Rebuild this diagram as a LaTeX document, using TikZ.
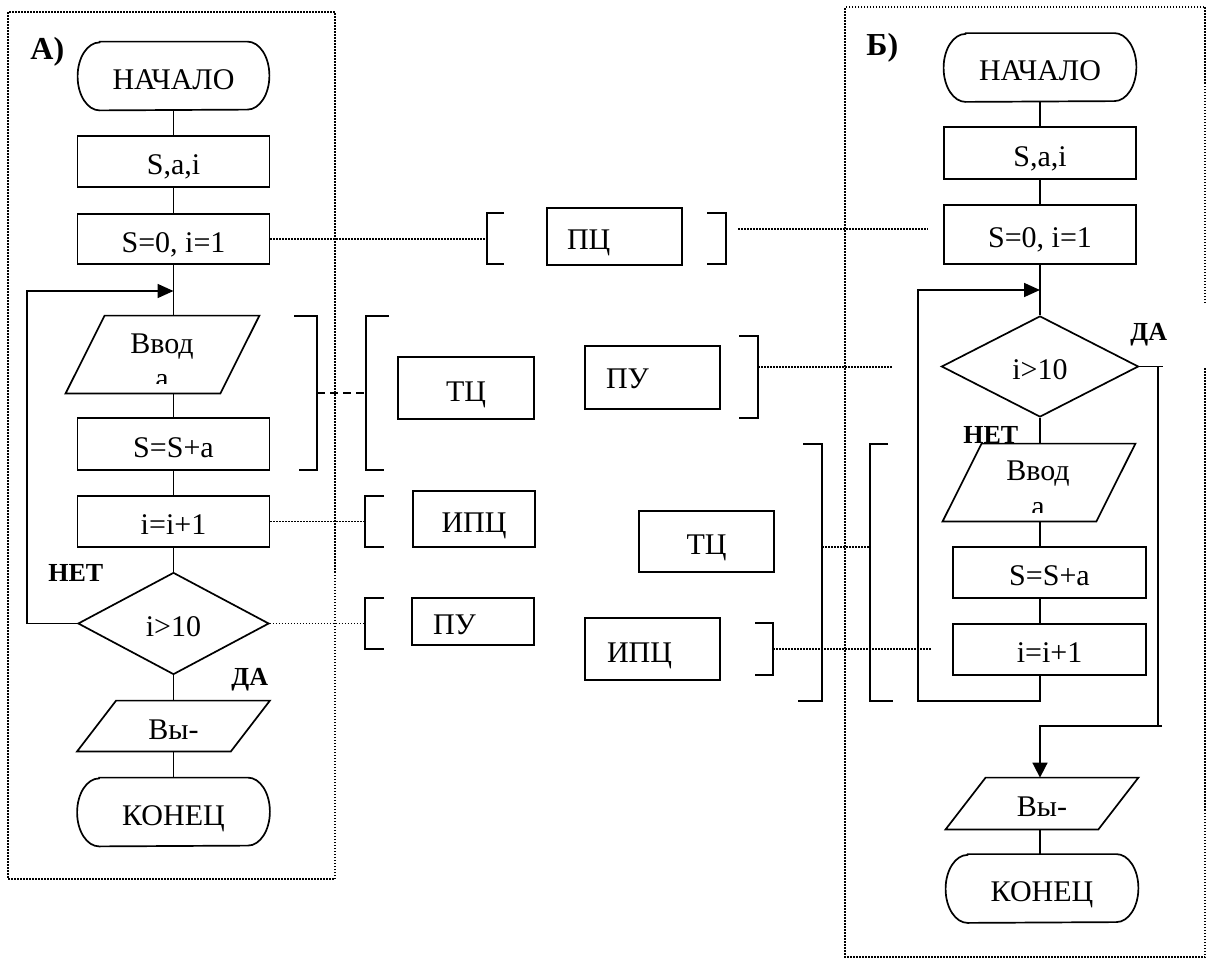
\documentclass[tikz,border=0pt]{standalone}
\usepackage{fontspec}
\setmainfont{Liberation Serif}
\usetikzlibrary{shapes.geometric,arrows.meta}

% terminal outline (flattened round ends) drawn around a blank node
\newcommand\termshape[1]{%
  \draw[ln] ([xshift=11pt]#1.north west) -- ([xshift=-11pt]#1.north east)
    arc[start angle=90,end angle=-90,x radius=11pt,y radius=17pt]
    -- ([xshift=11pt]#1.south west)
    arc[start angle=270,end angle=90,x radius=11pt,y radius=17pt] -- cycle;}
% data (parallelogram) outline drawn around a blank node
\newcommand\parashape[2]{%
  \draw[ln] ([xshift=#2]#1.north west) -- (#1.north east)
    -- ([xshift=-#2]#1.south east) -- (#1.south west) -- cycle;}

\begin{document}
\begin{tikzpicture}[x=0.5pt,y=-0.5pt,
  every node/.style={font=\fontsize{15pt}{18pt}\selectfont},
  ln/.style={line width=0.85pt},
  seat/.style={text height=13.5pt,text depth=0.5pt},
  box/.style={draw,rectangle,ln,inner sep=0pt,seat},
  blank/.style={rectangle,inner sep=0pt,seat},
  dia/.style={draw,diamond,ln,inner sep=0pt,seat},
  lbox/.style={box,align=left},
  dots/.style={line width=0.75pt,dash pattern=on 0.75pt off 0.75pt},
  dashes/.style={line width=0.85pt,dash pattern=on 4pt off 2.5pt},
  tag/.style={font=\fontsize{13pt}{15pt}\selectfont\bfseries,anchor=base west,inner sep=0pt},
  head/.style={font=\fontsize{16pt}{19pt}\selectfont\bfseries,anchor=base west,inner sep=0pt},
  arr/.style={ln,-{Triangle[length=8pt,width=7pt]}},
  arrd/.style={ln,-{Triangle[length=7.5pt,width=7.5pt]}},
]
\useasboundingbox (0,0) rectangle (1206,958);

% ---------- frames ----------
\draw[dots] (8,12) rectangle (335,879);
\draw[dots] (1205,303) -- (1205,7) -- (845,7) -- (845,957) -- (1205,957) -- (1205,367);

\node[head] (capA) at (30,59) {А)};
\node[head] (capB) at (866,55) {Б)};

% ---------- flowchart A ----------
\coordinate (ax1) at (173.5,0);
\node[blank,minimum width=95.5pt,minimum height=34pt] (nach1) at (173.5,76) {НАЧАЛО};
\termshape{nach1}
\node[box,minimum width=96pt,minimum height=25.5pt] (sai1) at (173.5,161.5) {S,a,i};
\node[box,minimum width=96pt,minimum height=25pt] (s01) at (173.5,239) {S=0, i=1};
\node[blank,minimum width=96.5pt,minimum height=38.5pt] (vvod1) at (162.5,354.5) {};
\parashape{vvod1}{19.5pt}
\node[anchor=base] (vvod1t) at (162,353) {Ввод};
\begin{scope}
  \clip (60,300) rectangle (270,383);
  \node[anchor=base] (vvod1a) at (162,388) {а};
\end{scope}
\node[box,minimum width=96pt,minimum height=26pt] (ssa1) at (173.5,444) {S=S+a};
\node[box,minimum width=96pt,minimum height=25.5pt] (ii1) at (173.5,521.5) {i=i+1};
\node[dia,minimum width=95.5pt,minimum height=51pt] (dia1) at (173.5,623.5) {i>10};
\node[blank,minimum width=96pt,minimum height=25pt] (vyv1) at (173.5,726) {Вы-};
\parashape{vyv1}{19.5pt}
\node[blank,minimum width=96pt,minimum height=34pt] (kon1) at (173.5,812) {КОНЕЦ};
\termshape{kon1}

\node[tag] (net1) at (48,581) {НЕТ};
\node[tag] (da1) at (231,685) {ДА};

\draw[ln] (nach1.south) -- (sai1.north);
\draw[ln] (sai1.south) -- (s01.north);
\draw[ln] (s01.south) -- (ax1 |- vvod1.north);
\draw[ln] (ax1 |- vvod1.south) -- (ssa1.north);
\draw[ln] (ssa1.south) -- (ii1.north);
\draw[ln] (ii1.south) -- (dia1.north);
\draw[ln] (dia1.south) -- (vyv1.north);
\draw[ln] (vyv1.south) -- (kon1.north);
\coordinate (in1) at (173.5,291);
\draw[arr] (dia1.west) -- ++(-50,0) |- (in1);

% ---------- flowchart B ----------
\coordinate (ax2) at (1040,0);
\node[blank,minimum width=96pt,minimum height=34pt] (nach2) at (1040,67.5) {НАЧАЛО};
\termshape{nach2}
\node[box,minimum width=96pt,minimum height=26pt] (sai2) at (1040,153) {S,a,i};
\node[box,minimum width=96pt,minimum height=29.5pt] (s02) at (1040,234.5) {S=0, i=1};
\node[dia,minimum width=98.5pt,minimum height=50.5pt] (dia2) at (1040,366.5) {i>10};
\node[blank,minimum width=96pt,minimum height=38.5pt] (vvod2) at (1039,482.5) {};
\parashape{vvod2}{19.5pt}
\node[anchor=base] (vvod2t) at (1038,480) {Ввод};
\begin{scope}
  \clip (930,430) rectangle (1150,512);
  \node[anchor=base] (vvod2a) at (1038,516) {а};
\end{scope}
\node[box,minimum width=96.5pt,minimum height=25.5pt] (ssa2) at (1049.5,572.5) {S=S+a};
\node[box,minimum width=96.5pt,minimum height=25.5pt] (ii2) at (1049.5,649.5) {i=i+1};
\node[blank,minimum width=96pt,minimum height=25.5pt] (vyv2) at (1042,803.5) {Вы-};
\parashape{vyv2}{20pt}
\node[blank,minimum width=96pt,minimum height=34pt] (kon2) at (1042,888.5) {КОНЕЦ};
\termshape{kon2}

\node[tag] (da2) at (1130,340) {ДА};
\node[tag] (net2) at (963,443) {НЕТ};

\draw[ln] (nach2.south) -- (sai2.north);
\draw[ln] (sai2.south) -- (s02.north);
\draw[ln] (s02.south) -- (dia2.north);
\draw[ln] (dia2.south) -- (ax2 |- vvod2.north);
\draw[ln] (ax2 |- vvod2.south) -- (ax2 |- ssa2.north);
\draw[ln] (ax2 |- ssa2.south) -- (ax2 |- ii2.north);
\coordinate (in2) at (1040,290);
\draw[arr] (ax2 |- ii2.south) -- ++(0,25) -- ++(-122,0) |- (in2);
\coordinate (yr) at (1158,726);
\draw[ln] (dia2.east) -- ++(24,0);
\draw[ln] (dia2.east -| yr) -- (yr);
\draw[arrd] ([xshift=2pt]yr) -| (ax2 |- vyv2.north);
\draw[ln] (ax2 |- vyv2.south) -- (ax2 |- kon2.north);

% ---------- structure labels between the charts ----------
% ПЦ
\draw[dots] (s01.east) -- (487,239);
\draw[ln] (504,213) -- (487,213) -- (487,264) -- (504,264);
\node[lbox,minimum width=67.5pt,minimum height=28.5pt,text width=47.5pt,inner xsep=10pt] (pc) at (614.5,236.5) {ПЦ};
\draw[ln] (707,213) -- (726,213) -- (726,264) -- (707,264);
\draw[dots] (738,229) -- (928,229);

% ТЦ of chart A
\draw[ln] (294,316) -- (317,316) -- (317,470) -- (299,470);
\draw[dashes] (317,393) -- (366,393);
\draw[ln] (389,316) -- (366,316) -- (366,470) -- (384,470);
\node[box,minimum width=68pt,minimum height=31pt] (tc1) at (466,388) {ТЦ};

% ПУ of chart B
\node[lbox,minimum width=67.5pt,minimum height=31.5pt,text width=46.5pt,inner xsep=10.5pt,text height=11pt] (pu2) at (652.5,377.5) {ПУ};
\draw[ln] (739,336) -- (758,336) -- (758,418) -- (739,418);
\draw[dots] (758,367) -- (892,367);

% ИПЦ of chart A
\draw[dots] (ii1.east) -- (365,521.5);
\draw[ln] (384,496) -- (365,496) -- (365,547) -- (384,547);
\node[box,minimum width=61pt,minimum height=28pt] (ipc1) at (474,519) {ИПЦ};

% ПУ of chart A
\draw[dots] (dia1.east) -- (365,623.5);
\draw[ln] (384,598) -- (365,598) -- (365,649) -- (384,649);
\node[lbox,minimum width=61pt,minimum height=23.5pt,text width=40pt,inner xsep=10.5pt] (pu1) at (473,621.5) {ПУ};

% ТЦ and ИПЦ of chart B
\node[box,minimum width=67.5pt,minimum height=30.5pt] (tc2) at (706.5,541.5) {ТЦ};
\node[lbox,minimum width=67.5pt,minimum height=31pt,text width=45.5pt,inner xsep=11pt] (ipc2) at (652.5,649) {ИПЦ};
\draw[ln] (755,623) -- (773,623) -- (773,675) -- (755,675);
\draw[dots] (773,649) -- (931,649);
\draw[ln] (803,444) -- (822,444) -- (822,701) -- (798,701);
\draw[dots] (822,547) -- (870,547);
\draw[ln] (888,444) -- (870,444) -- (870,701) -- (893,701);

\end{tikzpicture}
\end{document}
